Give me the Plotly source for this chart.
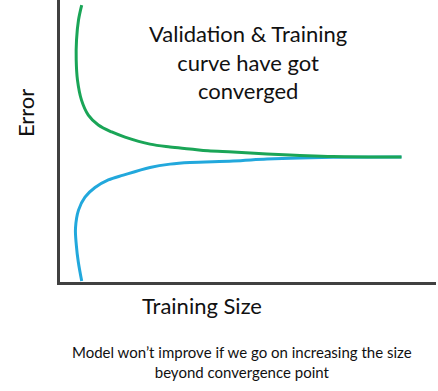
import plotly.graph_objects as go

# Validation (green) curve: training size vs error (arbitrary units 0-100)
val_x = [5.77, 4.92, 4.39, 4.31, 4.65, 5.72, 7.53, 10.19, 13.75, 17.29, 23.94, 29.26, 34.57, 39.36, 46.01, 55.05, 63.83, 72.61, 90.82]
val_y = [98.2, 92.9, 85.8, 78.7, 71.6, 64.5, 59.2, 55.7, 53.2, 51.4, 48.9, 47.9, 47.2, 46.5, 46.1, 45.4, 44.9, 44.5, 44.3]

# Training (blue) curve
train_x = [5.77, 4.87, 4.34, 4.12, 4.92, 6.65, 9.31, 12.85, 16.84, 23.94, 29.26, 34.57, 46.01, 55.05, 63.83, 72.61, 90.82]
train_y = [0.35, 7.1, 13.1, 19.1, 25.5, 30.1, 33.5, 36.2, 37.9, 40.6, 41.8, 42.4, 42.9, 43.6, 44.0, 44.2, 44.3]

title_text = "Validation & Training<br>curve have got<br>converged"
x_label = "Training Size"
y_label = "Error"
note_text = "Model won\u2019t improve if we go on increasing the size<br>beyond convergence point"

FONT = "Lato, Calibri, Carlito, sans-serif"

fig = go.Figure()
fig.add_trace(go.Scatter(x=train_x, y=train_y, mode="lines", line=dict(color="#22a8dc", width=3, shape="spline"), hoverinfo="skip"))
fig.add_trace(go.Scatter(x=val_x, y=val_y, mode="lines", line=dict(color="#1aa557", width=3, shape="spline"), hoverinfo="skip"))

axis_common = dict(showgrid=False, zeroline=False, showticklabels=False, ticks="",
                   showline=True, linecolor="#404040", linewidth=2.5, fixedrange=True)
fig.update_xaxes(range=[0, 100], **axis_common)
fig.update_yaxes(range=[0, 100], **axis_common)

ann = dict(xref="paper", yref="paper", showarrow=False, xanchor="center", yanchor="middle")
fig.add_annotation(text=title_text, x=0.5, y=0.78, align="center",
                   font=dict(family=FONT, size=22, color="#111111"), **ann)
fig.add_annotation(text=y_label, x=-0.093, y=0.599, textangle=-90,
                   font=dict(family=FONT, size=22, color="#111111"), **ann)
fig.add_annotation(text=x_label, x=0.378, y=-0.082,
                   font=dict(family=FONT, size=22, color="#111111"), **ann)
fig.add_annotation(text=note_text, x=0.484, y=-0.284, align="center",
                   font=dict(family=FONT, size=15, color="#111111"), **ann)

fig.update_layout(width=438, height=391, margin=dict(l=60, r=2, t=0, b=109),
                  paper_bgcolor="white", plot_bgcolor="white", showlegend=False)

fig.write_html("out.html", config={"displayModeBar": False})
